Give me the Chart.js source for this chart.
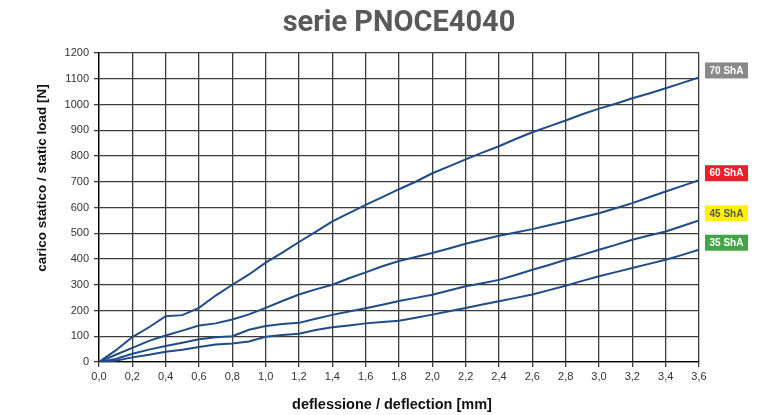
<!DOCTYPE html>
<html>
<head>
<meta charset="utf-8">
<script src="https://cdn.jsdelivr.net/npm/chart.js@4/dist/chart.umd.min.js"></script>
<style>
  html, body { margin: 0; padding: 0; background: #fff; }
  #wrap { width: 757px; height: 415px; }
</style>
</head>
<body>
<div id="wrap"><canvas id="pnoceChart" width="757" height="415"></canvas></div>
<script>
// ===== serie PNOCE4040 : static load vs deflection =====
const deflection = [0.0, 0.1, 0.2, 0.3, 0.4, 0.5, 0.6, 0.7, 0.8, 0.9,
  1.0, 1.1, 1.2, 1.3, 1.4, 1.5, 1.6, 1.7, 1.8, 1.9,
  2.0, 2.1, 2.2, 2.3, 2.4, 2.5, 2.6, 2.7, 2.8, 2.9,
  3.0, 3.1, 3.2, 3.3, 3.4, 3.5, 3.6];

const load70 = [0, 45, 97, 135, 178, 182, 210, 258, 300, 340,
  386, 425, 466, 505, 546, 578, 610, 640, 671, 700,
  733, 760, 787, 813, 838, 866, 892, 915, 938, 962,
  984, 1003, 1024, 1043, 1063, 1084, 1105];
const load60 = [0, 28, 55, 82, 103, 122, 142, 150, 165, 185,
  210, 237, 262, 282, 300, 325, 348, 372, 392, 408,
  423, 441, 459, 475, 490, 503, 516, 531, 546, 562,
  578, 597, 617, 640, 662, 684, 706];
const load45 = [0, 12, 32, 48, 62, 75, 88, 96, 100, 125,
  140, 148, 152, 168, 183, 196, 209, 222, 237, 249,
  261, 278, 294, 306, 319, 338, 358, 377, 397, 416,
  436, 455, 475, 491, 507, 528, 550];
const load35 = [0, 5, 18, 28, 40, 48, 58, 68, 72, 80,
  98, 105, 110, 124, 135, 142, 150, 155, 160, 172,
  184, 197, 210, 223, 236, 249, 262, 279, 296, 315,
  333, 349, 365, 381, 397, 416, 436];

const hardness = ["70 ShA", "60 ShA", "45 ShA", "35 ShA"];
const xTicks = [0, 0.2, 0.4, 0.6, 0.8, 1.0, 1.2, 1.4, 1.6, 1.8,
  2.0, 2.2, 2.4, 2.6, 2.8, 3.0, 3.2, 3.4, 3.6];
const yTicks = [0, 100, 200, 300, 400, 500, 600, 700, 800, 900, 1000, 1100, 1200];

const xTitle = "deflessione / deflection [mm]";
const yTitle = "carico statico / static load [N]";

const tagStyle = [
  { bg: "#8a8a8a", fg: "#ffffff" },
  { bg: "#e8202a", fg: "#ffffff" },
  { bg: "#fff200", fg: "#555555" },
  { bg: "#43a548", fg: "#ffffff" }
];

const lineColor = "#1f4b87";
const gridColor = "#3c3c3c";

function series(vals) {
  return deflection.map((x, i) => ({ x: x, y: vals[i] }));
}

// axis titles (offset like the original) and hardness tags at curve ends
const extras = {
  id: "extras",
  afterDraw(chart) {
    const c = chart.ctx;
    const ys = chart.scales.y;
    c.save();
    c.fillStyle = "#111";
    c.font = "bold 14.5px 'Liberation Sans', Arial, sans-serif";
    c.textAlign = "center";
    c.textBaseline = "middle";
    c.fillText(xTitle, 392, 405);
    c.save();
    c.translate(42, 178);
    c.rotate(-Math.PI / 2);
    c.font = "bold 13.5px 'Liberation Sans', Arial, sans-serif";
    c.fillText(yTitle, 0, 0);
    c.restore();

    c.font = "bold 10px 'Liberation Sans', Arial, sans-serif";
    chart.data.datasets.forEach((ds, i) => {
      const last = ds.data[ds.data.length - 1];
      const yc = ys.getPixelForValue(last.y) - 7;
      const x0 = chart.chartArea.right + 6;
      c.fillStyle = tagStyle[i].bg;
      c.fillRect(x0, yc - 8, 43, 16);
      c.fillStyle = tagStyle[i].fg;
      c.fillText(ds.label, x0 + 21.5, yc + 0.5);
    });
    c.restore();
  }
};

const ctx = document.getElementById("pnoceChart").getContext("2d");

new Chart(ctx, {
  type: "line",
  data: {
    datasets: [load70, load60, load45, load35].map((vals, i) => ({
      label: hardness[i],
      data: series(vals),
      borderColor: lineColor,
      borderWidth: 2,
      pointRadius: 0,
      tension: 0,
      fill: false
    }))
  },
  options: {
    responsive: false,
    animation: false,
    layout: { padding: { left: 0, right: 58, top: 0, bottom: 0 } },
    plugins: {
      legend: { display: false },
      tooltip: { enabled: false },
      title: {
        display: true,
        fullSize: false,
        text: "serie PNOCE4040",
        color: "#595959",
        font: { family: "Roboto", size: 29, weight: "bold" },
        padding: { top: 6.6, bottom: 11.6 }
      }
    },
    scales: {
      x: {
        type: "linear",
        min: 0,
        max: 3.6,
        afterBuildTicks: (s) => { s.ticks = xTicks.map(v => ({ value: v })); },
        afterFit: (s) => { s.height = 53; },
        ticks: {
          color: "#333",
          font: { family: "Liberation Sans", size: 11 },
          padding: 3,
          maxRotation: 0,
          callback: (v) => Number(v).toFixed(1).replace(".", ",")
        },
        grid: { color: gridColor, lineWidth: 1.3, tickLength: 5 },
        border: { color: "#000", width: 1.3 }
      },
      y: {
        min: 0,
        max: 1200,
        afterBuildTicks: (s) => { s.ticks = yTicks.map(v => ({ value: v })); },
        afterFit: (s) => { s.width = 99; },
        ticks: {
          color: "#333",
          font: { family: "Liberation Sans", size: 11 },
          padding: 5,
          callback: (v) => String(v)
        },
        grid: { color: gridColor, lineWidth: 1.3, tickLength: 5 },
        border: { color: "#000", width: 1.3 }
      }
    }
  },
  plugins: [extras]
});
</script>
</body>
</html>
